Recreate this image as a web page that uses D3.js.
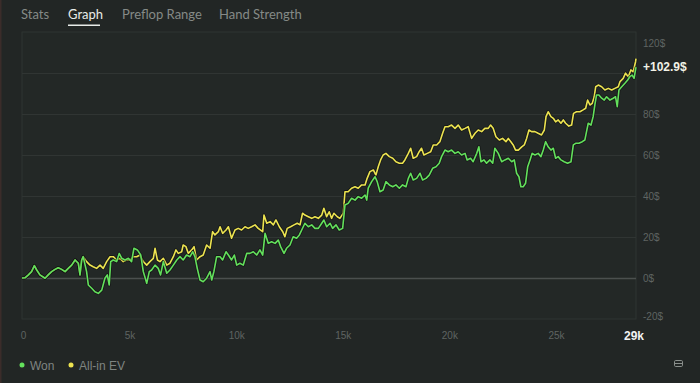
<!DOCTYPE html>
<html>
<head>
<meta charset="utf-8">
<script src="https://cdn.jsdelivr.net/npm/d3@7"></script>
<style>
  html, body { margin: 0; padding: 0; background: #222625; }
  svg { display: block; font-family: "Liberation Sans", Arial, sans-serif; }
  .onglet { font-family: Lato, "Open Sans", sans-serif; }
</style>
</head>
<body>
<div id="chart"></div>
<script>
// --- données (mains en milliers, gains en $) ---
const tabs = ["Stats", "Graph", "Preflop Range", "Hand Strength"];
const yTicks = [-20, 0, 20, 40, 60, 80, 100, 120];
const xTicks = [0, 5, 10, 15, 20, 25];
const xTickLabels = ["0", "5k", "10k", "15k", "20k", "25k"];
const totalHands = 28.8;
const finalLabel = "+102.9$";

const wonHands = [0, 0.14, 0.30, 0.45, 0.58, 0.69, 0.84, 1.08, 1.23, 1.39, 1.55, 1.70, 1.86, 2.02, 2.17, 2.33, 2.49, 2.64, 2.72, 2.80, 2.87,
  3.03, 3.11, 3.27, 3.42, 3.58, 3.74, 3.89, 4.00, 4.09, 4.16, 4.28, 4.44, 4.56, 4.68, 4.83, 4.99, 5.14, 5.25, 5.41, 5.57,
  5.69, 5.85, 5.97, 6.08, 6.24, 6.39, 6.50, 6.63, 6.79, 6.94, 7.10, 7.26, 7.41, 7.56, 7.72, 7.88, 8.01, 8.11, 8.22, 8.35,
  8.50, 8.66, 8.82, 8.90, 9.00, 9.13, 9.29, 9.41, 9.57, 9.68, 9.83, 9.96, 10.07, 10.22, 10.38, 10.54, 10.69, 10.85, 11.01, 11.16,
  11.29, 11.40, 11.55, 11.71, 11.87, 12.02, 12.13, 12.29, 12.41, 12.57, 12.72, 12.88, 13.01, 13.12, 13.27, 13.43, 13.59, 13.74, 13.90, 14.06,
  14.16, 14.29, 14.45, 14.57, 14.73, 14.88, 15.04, 15.15, 15.30, 15.46, 15.62, 15.77, 15.93, 16.09, 16.17, 16.24, 16.40, 16.56, 16.66, 16.79,
  16.94, 17.07, 17.23, 17.39, 17.54, 17.70, 17.85, 18.01, 18.12, 18.23, 18.35, 18.51, 18.67, 18.79, 18.95, 19.10, 19.26, 19.42, 19.57, 19.68,
  19.84, 19.99, 20.15, 20.31, 20.46, 20.62, 20.78, 20.88, 21.04, 21.16, 21.33, 21.43, 21.53, 21.67, 21.79, 21.95, 22.08, 22.18, 22.34, 22.50,
  22.65, 22.81, 22.97, 23.09, 23.20, 23.31, 23.40, 23.51, 23.62, 23.72, 23.83, 23.93, 24.06, 24.21, 24.34, 24.45, 24.56, 24.68, 24.81, 24.92,
  25.03, 25.15, 25.28, 25.43, 25.59, 25.75, 25.86, 25.97, 26.12, 26.28, 26.40, 26.48, 26.56, 26.69, 26.79, 26.87, 26.95, 27.06, 27.19, 27.31,
  27.42, 27.58, 27.73, 27.84, 27.92, 28.00, 28.13, 28.28, 28.41, 28.51, 28.62, 28.71, 28.80];
const wonValues = [0, 0.1, 1.5, 3.1, 6.0, 3.9, 1.5, -0.1, 1.5, 3.1, 4.2, 5.0, 4.2, 3.1, 4.7, 6.3, 8.8, 7.2, 1.5, 8.8, 10.4,
  3.1, -3.4, -5.0, -6.7, -7.5, -5.9, -0.1, 1.5, -3.4, 8.0, 8.8, 8.0, 12.0, 9.6, 8.8, 9.6, 8.0, 14.5, 13.7, 11.2,
  3.1, -2.6, 3.1, 3.9, 6.3, 4.7, 1.5, 8.0, 2.3, 3.9, 6.3, 8.8, 10.4, 8.8, 11.2, 10.4, 12.8, 10.4, 4.7, -1.0,
  -1.8, -0.1, 3.1, -1.0, 3.1, 10.4, 10.4, 8.8, 12.8, 11.2, 8.8, 11.2, 6.3, 7.2, 6.3, 12.0, 12.0, 12.8, 11.2, 13.7,
  11.2, 21.8, 16.9, 17.7, 16.9, 18.5, 15.3, 12.0, 14.5, 16.1, 20.1, 19.4, 21.0, 23.4, 26.7, 25.0, 25.9, 24.2, 24.2, 26.7,
  28.3, 25.0, 26.7, 24.2, 25.9, 23.4, 24.2, 35.6, 36.4, 38.9, 38.0, 39.7, 38.9, 40.5, 38.0, 43.8, 47.0, 49.4, 47.0, 42.1,
  42.9, 47.0, 45.4, 44.5, 45.4, 43.8, 45.4, 44.5, 48.6, 51.1, 47.8, 48.6, 51.1, 47.8, 48.6, 50.2, 53.5, 54.3, 56.0, 59.2,
  62.4, 61.6, 62.4, 60.8, 61.6, 60.0, 60.8, 57.6, 58.4, 56.7, 60.8, 64.0, 56.7, 57.6, 56.0, 57.6, 56.0, 63.3, 60.8, 56.7,
  57.6, 58.4, 56.7, 57.6, 51.1, 49.4, 44.5, 44.5, 46.2, 54.3, 57.6, 60.8, 60.0, 60.8, 59.2, 62.4, 66.5, 64.0, 62.4, 63.3,
  58.4, 59.2, 57.6, 56.7, 56.0, 56.7, 64.9, 65.7, 65.7, 66.5, 67.3, 71.4, 75.5, 74.6, 78.7, 84.4, 89.3, 89.3, 87.7, 86.8,
  88.4, 86.8, 87.7, 88.4, 83.6, 91.7, 93.3, 95.0, 96.6, 98.2, 99.0, 97.4, 102.9];

const evHands = [0, 0.14, 0.30, 0.45, 0.58, 0.69, 0.84, 1.08, 1.23, 1.39, 1.55, 1.70, 1.86, 2.02, 2.17, 2.33, 2.49, 2.64, 2.72, 2.80, 2.87,
  3.03, 3.19, 3.34, 3.50, 3.66, 3.81, 3.97, 4.13, 4.28, 4.44, 4.60, 4.75, 4.91, 5.07, 5.22, 5.38, 5.53, 5.69, 5.85, 6.00,
  6.16, 6.24, 6.35, 6.47, 6.63, 6.79, 6.94, 7.10, 7.22, 7.33, 7.49, 7.56, 7.69, 7.80, 7.96, 8.07, 8.19, 8.35, 8.50, 8.66,
  8.82, 8.94, 9.05, 9.21, 9.29, 9.41, 9.57, 9.68, 9.83, 9.99, 10.14, 10.30, 10.46, 10.61, 10.77, 10.93, 11.08, 11.29, 11.35, 11.48,
  11.64, 11.79, 11.91, 12.07, 12.23, 12.33, 12.44, 12.60, 12.76, 12.91, 13.04, 13.16, 13.27, 13.43, 13.59, 13.74, 13.90, 14.06, 14.16, 14.29,
  14.41, 14.52, 14.63, 14.79, 14.91, 15.07, 15.15, 15.30, 15.46, 15.62, 15.77, 15.93, 16.09, 16.19, 16.32, 16.48, 16.60, 16.71, 16.82, 16.94,
  17.07, 17.23, 17.39, 17.54, 17.70, 17.85, 17.96, 18.12, 18.23, 18.35, 18.51, 18.63, 18.74, 18.85, 19.01, 19.17, 19.29, 19.45, 19.60, 19.73,
  19.84, 19.99, 20.15, 20.31, 20.46, 20.62, 20.78, 20.93, 21.09, 21.25, 21.40, 21.56, 21.71, 21.87, 21.98, 22.10, 22.23, 22.39, 22.54, 22.70,
  22.81, 22.93, 23.04, 23.15, 23.28, 23.44, 23.56, 23.67, 23.78, 23.90, 24.06, 24.21, 24.37, 24.50, 24.58, 24.68, 24.81, 24.92, 25.03, 25.15,
  25.28, 25.39, 25.50, 25.65, 25.78, 25.87, 26.01, 26.17, 26.32, 26.44, 26.53, 26.64, 26.75, 26.84, 26.91, 27.03, 27.19, 27.34, 27.50, 27.66,
  27.81, 27.97, 28.05, 28.20, 28.31, 28.44, 28.56, 28.67, 28.78, 28.80];
const evValues = [0, 0.1, 1.5, 3.1, 6.0, 3.9, 1.5, -0.1, 1.5, 3.1, 4.2, 5.0, 4.2, 3.1, 4.7, 6.3, 8.8, 7.2, 1.5, 8.8, 10.4,
  8.0, 6.3, 5.5, 4.7, 6.3, 4.7, 8.0, 10.4, 10.4, 8.8, 9.6, 8.0, 8.8, 8.8, 10.4, 10.4, 11.2, 8.0, 6.3, 8.0,
  9.6, 14.5, 8.8, 8.0, 9.6, 6.3, 7.2, 10.4, 13.7, 12.0, 12.8, 16.1, 15.3, 12.0, 13.7, 15.3, 8.8, 10.4, 11.2, 16.1,
  14.5, 22.6, 21.0, 22.6, 25.0, 21.8, 23.4, 25.0, 19.4, 23.4, 24.2, 23.4, 25.0, 24.2, 25.0, 25.9, 24.2, 22.6, 30.7, 26.7,
  27.5, 25.9, 28.3, 25.0, 22.6, 20.1, 24.2, 25.0, 25.9, 26.7, 25.9, 31.6, 30.7, 29.9, 29.1, 29.9, 29.1, 30.7, 34.0, 29.9,
  32.3, 29.1, 31.6, 29.9, 29.1, 31.6, 42.1, 42.1, 43.8, 44.5, 43.8, 45.4, 45.4, 48.6, 51.9, 52.7, 50.2, 54.3, 57.6, 60.0,
  60.8, 59.2, 58.4, 56.7, 56.0, 56.0, 57.6, 60.8, 63.3, 58.4, 59.2, 61.6, 63.3, 60.0, 60.8, 61.6, 64.9, 64.9, 66.5, 70.6,
  73.8, 73.8, 74.6, 73.0, 74.6, 72.2, 73.0, 73.8, 68.1, 70.6, 72.2, 71.4, 73.0, 73.0, 74.6, 73.0, 68.9, 67.3, 68.1, 66.5,
  68.1, 66.5, 64.9, 62.4, 62.4, 64.0, 64.9, 68.1, 72.2, 71.4, 71.4, 70.6, 69.8, 72.2, 78.7, 81.1, 78.7, 77.9, 76.2, 77.1,
  75.5, 77.1, 75.5, 74.1, 74.6, 80.3, 81.1, 81.1, 82.0, 82.8, 86.8, 84.4, 85.2, 88.4, 93.3, 94.1, 93.3, 91.7, 92.5, 91.7,
  92.5, 93.3, 95.8, 97.4, 99.9, 98.2, 101.5, 100.6, 105.5, 107.0];

// --- configuration ---
const largeur = 700;
const hauteur = 383;
const couleurWon = "#63e05c";
const couleurEV = "#ece350";

const svg = d3.select("#chart").append("svg")
  .attr("width", largeur)
  .attr("height", hauteur);

svg.append("rect").attr("width", largeur).attr("height", hauteur).attr("fill", "#222625");
svg.append("rect").attr("x", 0).attr("y", 0).attr("width", 1.5).attr("height", hauteur).attr("fill", "#3b2c2a");

// onglets
const tabX = [21, 68, 122, 219];
tabs.forEach((t, i) => {
  svg.append("text")
    .attr("class", "onglet")
    .attr("x", tabX[i]).attr("y", 19)
    .attr("font-size", 13)
    .attr("fill", i === 1 ? "#e8ece9" : "#858a87")
    .text(t);
});
svg.append("rect").attr("x", 68).attr("y", 24.5).attr("width", 32).attr("height", 1.5).attr("fill", "#e8ece9");

// échelles
const x = d3.scaleLinear().domain([0, totalHands]).range([22, 636]);
const y = d3.scaleLinear().domain([-20, 120]).range([319, 32]);

// cadre + grille
svg.append("rect")
  .attr("x", x(0)).attr("y", y(120))
  .attr("width", x(totalHands) - x(0)).attr("height", y(-20) - y(120))
  .attr("fill", "#232826").attr("stroke", "#2f3432").attr("stroke-width", 1);

svg.append("g").selectAll("line")
  .data(yTicks.filter(d => d > -20 && d < 120))
  .join("line")
  .attr("x1", x(0)).attr("x2", x(totalHands))
  .attr("y1", d => Math.round(y(d)) + 0.5).attr("y2", d => Math.round(y(d)) + 0.5)
  .attr("stroke", d => d === 0 ? "#4b504e" : "#303533")
  .attr("stroke-width", d => d === 0 ? 1.5 : 1);

// étiquettes Y
svg.append("g").selectAll("text")
  .data(yTicks.filter(d => d !== 100))
  .join("text")
  .attr("x", 643)
  .attr("y", d => Math.min(Math.max(y(d), 43), 316) + 3.5)
  .attr("font-size", 10)
  .attr("fill", "#5f6462")
  .text(d => d + "$");

svg.append("text")
  .attr("x", 643).attr("y", y(102.9) + 4)
  .attr("font-size", 12).attr("font-weight", "bold")
  .attr("fill", "#f2f2e6")
  .text(finalLabel);

// étiquettes X
svg.append("g").selectAll("text")
  .data(xTicks)
  .join("text")
  .attr("x", d => x(d) + 1.5)
  .attr("y", 339)
  .attr("text-anchor", "middle")
  .attr("font-size", 10)
  .attr("fill", "#5f6462")
  .text((d, i) => xTickLabels[i]);

svg.append("text")
  .attr("x", x(totalHands) - 2).attr("y", 340)
  .attr("text-anchor", "middle")
  .attr("font-size", 12).attr("font-weight", "bold")
  .attr("fill", "#f2f2f2")
  .text("29k");

// courbes
const ligne = d3.line().x(d => x(d[0])).y(d => y(d[1]));
const wonData = wonHands.map((h, i) => [h, wonValues[i]]);
const evData = evHands.map((h, i) => [h, evValues[i]]);

[[evData, couleurEV], [wonData, couleurWon]].forEach(([data, c]) => {
  svg.append("path").datum(data)
    .attr("d", ligne)
    .attr("fill", "none")
    .attr("stroke", "#0d0f0e").attr("stroke-opacity", 0.6)
    .attr("stroke-width", 3.2).attr("stroke-linejoin", "round");
  svg.append("path").datum(data)
    .attr("d", ligne)
    .attr("fill", "none")
    .attr("stroke", c)
    .attr("stroke-width", 1.6).attr("stroke-linejoin", "round");
});

// légende
const legende = [["Won", couleurWon, 22], ["All-in EV", couleurEV, 71]];
legende.forEach(([nom, c, lx]) => {
  svg.append("circle").attr("cx", lx).attr("cy", 365).attr("r", 2.5).attr("fill", c);
  svg.append("text").attr("x", lx + 8).attr("y", 370)
    .attr("font-size", 12).attr("fill", "#7f8481").text(nom);
});

// petite icône en bas à droite
svg.append("rect").attr("x", 674.5).attr("y", 360.5).attr("width", 8).attr("height", 6).attr("rx", 1.2)
  .attr("fill", "none").attr("stroke", "#8a8f8c").attr("stroke-width", 1);
svg.append("line").attr("x1", 675).attr("x2", 682).attr("y1", 363.5).attr("y2", 363.5)
  .attr("stroke", "#8a8f8c").attr("stroke-width", 1);
</script>
</body>
</html>
